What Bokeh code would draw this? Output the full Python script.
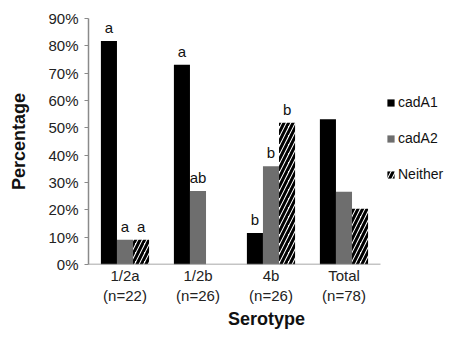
from bokeh.plotting import figure
from bokeh.models import (Range1d, ColumnDataSource, Legend, LegendItem,
                          FixedTicker, PrintfTickFormatter)
from bokeh.transform import dodge
from bokeh.core.properties import value
from bokeh.embed import file_html
from bokeh.resources import INLINE

categories = ["1/2a\n(n=22)", "1/2b\n(n=26)", "4b\n(n=26)", "Total\n(n=78)"]
cadA1 = [81.8, 73.1, 11.5, 53.1]
cadA2 = [9.1, 26.9, 35.9, 26.6]
neither = [9.1, 0.0, 51.9, 20.4]
letters_cadA1 = ["a", "a", "b", ""]
letters_cadA2 = ["a", "ab", "b", ""]
letters_neither = ["a", "", "b", ""]
y_ticks = [0, 10, 20, 30, 40, 50, 60, 70, 80, 90]
series_names = ["cadA1", "cadA2", "Neither"]

FONT = "Liberation Sans"
GRAY = "#6e6e6e"
AXIS = "#8a8a8a"

xs = [i + 0.5 for i in range(len(categories))]
src = ColumnDataSource(dict(x=xs, a1=cadA1, a2=cadA2, ne=neither,
                            l1=letters_cadA1, l2=letters_cadA2, l3=letters_neither))

# x range extends past the four categories to leave room for the legend
p = figure(width=444, height=331, x_range=Range1d(0, 4.877),
           y_range=Range1d(0, 90), output_backend="svg", toolbar_location=None,
           min_border_left=88, min_border_top=18, min_border_bottom=60, min_border_right=0)
p.outline_line_color = None
p.xgrid.grid_line_color = None
p.ygrid.grid_line_color = None

w = 0.22
r1 = p.vbar(x=dodge("x", -w), top="a1", width=w, source=src,
            fill_color="black", line_color=None)
r2 = p.vbar(x=dodge("x", 0), top="a2", width=w, source=src,
            fill_color=GRAY, line_color=None)
r3 = p.vbar(x=dodge("x", w), top="ne", width=w, source=src,
            fill_color="white", line_color=None, hatch_pattern="/", hatch_color="black",
            hatch_scale=9, hatch_weight=3)

# x axis baseline only under the four categories
p.segment(x0=[0], y0=[0], x1=[len(categories)], y1=[0], line_color=AXIS, line_width=1.5)

for col, top, off in [("l1", "a1", -w), ("l2", "a2", 0), ("l3", "ne", w)]:
    p.text(x=dodge("x", off), y=top, text=col, source=src,
           text_align="center", text_baseline="bottom", y_offset=-5,
           text_font=value(FONT), text_font_size="15px", text_color="#111")

p.yaxis.ticker = FixedTicker(ticks=y_ticks)
p.yaxis.formatter = PrintfTickFormatter(format="%d%%")
p.yaxis.minor_tick_line_color = None
p.yaxis.major_tick_in = 0
p.yaxis.major_tick_out = 4
p.yaxis.major_label_standoff = 6
p.yaxis.axis_line_color = AXIS
p.yaxis.major_tick_line_color = AXIS
p.xaxis.ticker = FixedTicker(ticks=xs)
p.xaxis.major_label_overrides = {x: c for x, c in zip(xs, categories)}
p.xaxis.minor_tick_line_color = None
p.xaxis.axis_line_color = None
p.xaxis.major_tick_line_color = None
p.xaxis.major_tick_out = 0
p.xaxis.major_tick_in = 0
p.xaxis.major_label_standoff = 2
p.xaxis.major_label_text_line_height = 1.2
for ax in (p.xaxis, p.yaxis):
    ax.axis_line_width = 1.5
    ax.major_label_text_font = FONT
    ax.major_label_text_font_size = "15px"
    ax.major_label_text_color = "#222"
    ax.axis_label_text_font = FONT
    ax.axis_label_text_font_size = "18px"
    ax.axis_label_text_font_style = "bold"
    ax.axis_label_text_color = "#111"
p.yaxis.axis_label = "Percentage"
p.xaxis.axis_label = "Serotype"
p.yaxis.axis_label_standoff = 16
p.xaxis.axis_label_standoff = 2

legend = Legend(items=[LegendItem(label=series_names[0], renderers=[r1]),
                       LegendItem(label=series_names[1], renderers=[r2]),
                       LegendItem(label=series_names[2], renderers=[r3])],
                location=(298, 82), orientation="vertical")
legend.border_line_color = None
legend.background_fill_alpha = 0
legend.padding = 0
legend.margin = 0
legend.spacing = 20
legend.glyph_width = 9
legend.glyph_height = 9
legend.label_standoff = 3
legend.label_height = 15
legend.label_text_font = FONT
legend.label_text_font_size = "14px"
legend.label_text_color = "#111"
p.add_layout(legend, "center")

open("out.html", "w").write(file_html(p, INLINE))
